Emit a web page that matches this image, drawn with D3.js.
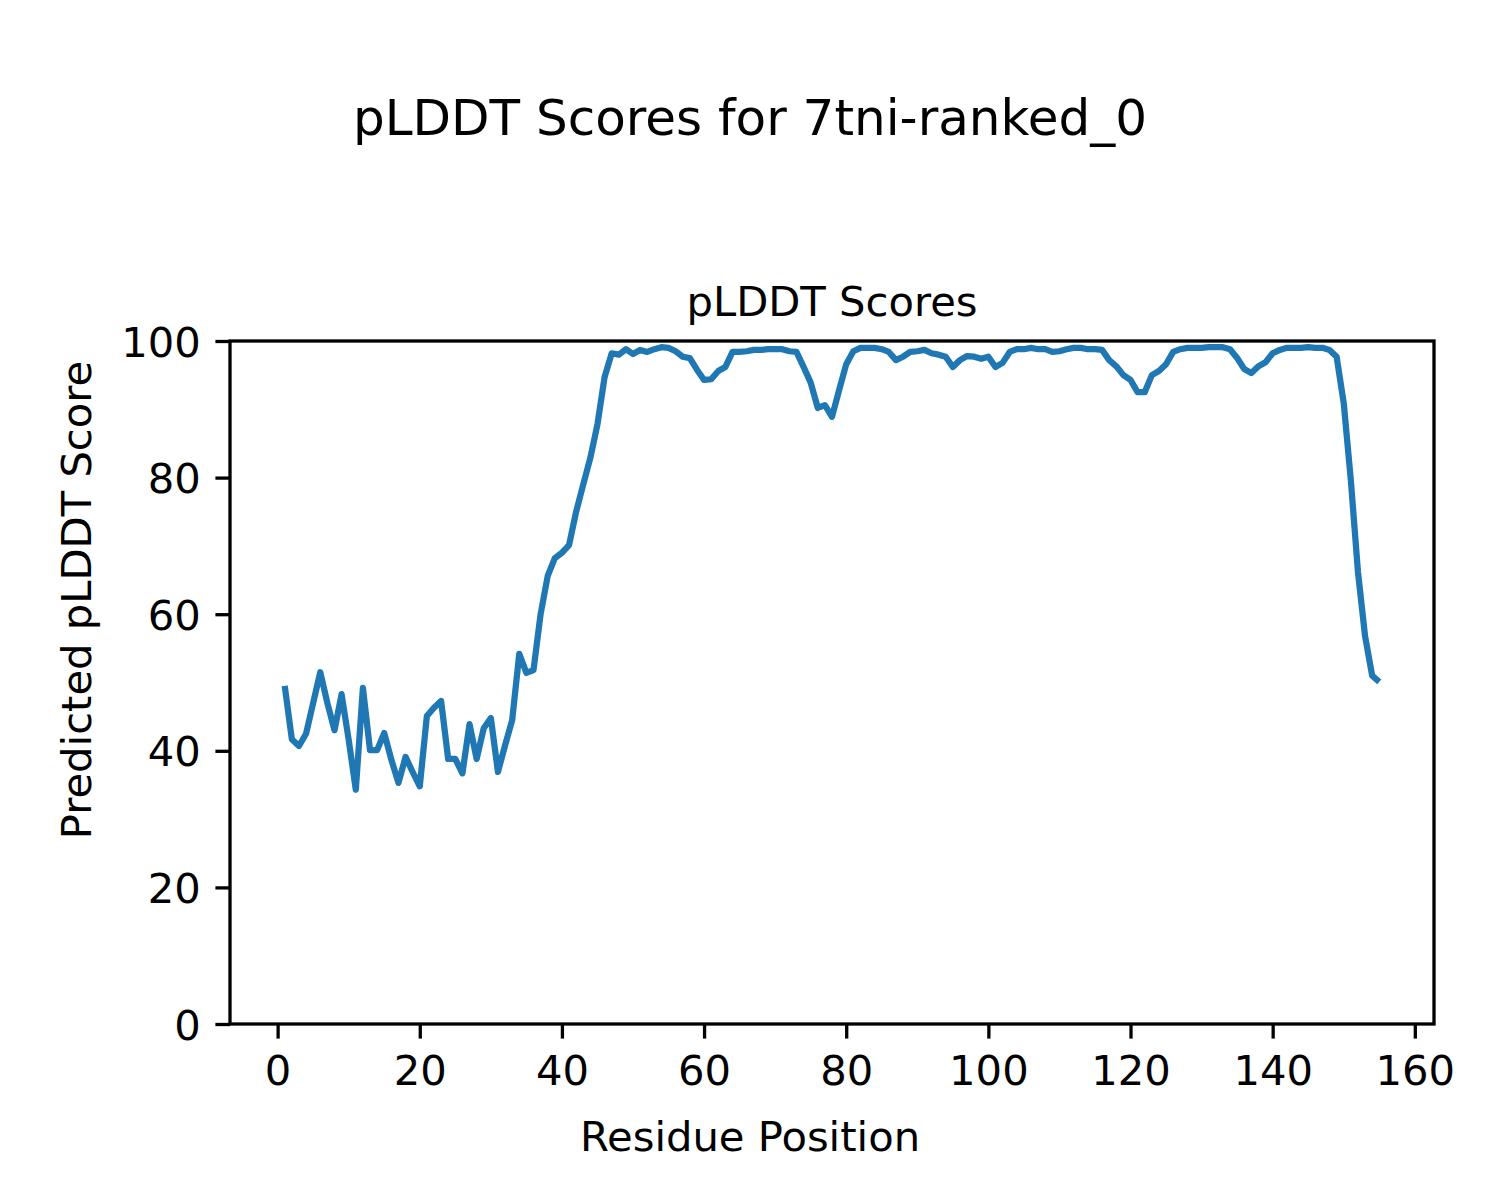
<!DOCTYPE html>
<html>
<head>
<meta charset="utf-8">
<script src="https://cdn.jsdelivr.net/npm/d3@7"></script>
<style>
  body { margin: 0; background: #fff; }
  text { font-family: "DejaVu Sans", sans-serif; fill: #000; }
</style>
</head>
<body>
<svg id="chart" width="1500" height="1200"></svg>
<script>
const residues = d3.range(1, 156);
const plddt = [
  49.5, 41.7, 40.7, 42.5, 47.0, 51.5, 47.0, 43.0, 48.3, 41.6,
  34.3, 49.2, 40.1, 40.1, 42.6, 38.7, 35.3, 39.1, 36.9, 34.8,
  45.1, 46.3, 47.3, 38.8, 38.8, 36.7, 43.9, 38.8, 43.3, 44.8,
  36.9, 40.8, 44.5, 54.2, 51.4, 51.8, 60.0, 65.6, 68.2, 69.0,
  70.1, 75.0, 79.0, 82.9, 87.8, 94.7, 98.2, 98.0, 98.8, 98.1,
  98.7, 98.4, 98.8, 99.1, 99.0, 98.5, 97.7, 97.5, 95.8, 94.3,
  94.4, 95.6, 96.2, 98.4, 98.4, 98.5, 98.7, 98.7, 98.8, 98.8,
  98.8, 98.5, 98.4, 96.2, 93.9, 90.2, 90.6, 88.9, 92.8, 96.6,
  98.5, 99.0, 99.0, 99.0, 98.8, 98.4, 97.2, 97.7, 98.4, 98.5,
  98.7, 98.2, 98.0, 97.7, 96.2, 97.2, 97.8, 97.7, 97.4, 97.7,
  96.2, 96.8, 98.4, 98.8, 98.8, 99.0, 98.8, 98.8, 98.4, 98.5,
  98.8, 99.0, 99.0, 98.8, 98.8, 98.7, 97.2, 96.3, 95.0, 94.3,
  92.5, 92.5, 95.0, 95.6, 96.6, 98.4, 98.8, 99.0, 99.0, 99.0,
  99.1, 99.1, 99.1, 98.8, 97.5, 95.9, 95.3, 96.3, 96.9, 98.2,
  98.7, 99.0, 99.0, 99.0, 99.1, 99.0, 99.0, 98.7, 97.7, 90.9,
  79.6, 66.2, 56.8, 51.0, 50.1
];
const xTicks = [0, 20, 40, 60, 80, 100, 120, 140, 160];
const yTicks = [0, 20, 40, 60, 80, 100];
const labels = {
  suptitle: "pLDDT Scores for 7tni-ranked_0",
  title: "pLDDT Scores",
  xlabel: "Residue Position",
  ylabel: "Predicted pLDDT Score"
};

const svg = d3.select("#chart");
const L = 230, R = 1434, T = 341, B = 1024;
const x = d3.scaleLinear().domain([1 - 0.05 * 154, 155 + 0.05 * 154]).range([L, R]);
const y = d3.scaleLinear().domain([0, 100]).range([B, T]);

const tickLen = 14.6, tickW = 3.3, fs = 41.7;

// line
svg.append("path")
  .datum(residues.map((r, i) => [r, plddt[i]]))
  .attr("fill", "none")
  .attr("stroke", "#1f77b4")
  .attr("stroke-width", 6.25)
  .attr("stroke-linejoin", "round")
  .attr("stroke-linecap", "butt")
  .attr("d", d3.line().x(d => x(d[0])).y(d => y(d[1])));

// axes
const xAxis = svg.append("g").attr("transform", `translate(0,${B})`)
  .call(d3.axisBottom(x).tickValues(xTicks).tickSize(tickLen).tickPadding(14.6).tickFormat(d3.format("d")));
const yAxis = svg.append("g").attr("transform", `translate(${L},0)`)
  .call(d3.axisLeft(y).tickValues(yTicks).tickSize(tickLen).tickPadding(14.6).tickFormat(d3.format("d")));
[xAxis, yAxis].forEach(g => {
  g.select(".domain").remove();
  g.selectAll(".tick line").attr("stroke", "#000").attr("stroke-width", tickW);
  g.selectAll(".tick text").style("font-size", fs + "px").style("font-family", "DejaVu Sans");
});
xAxis.selectAll(".tick text").attr("dy", "0.76em");
yAxis.selectAll(".tick text").attr("dy", "0.36em");

// frame
svg.append("rect").attr("x", L).attr("y", T).attr("width", R - L).attr("height", B - T)
  .attr("fill", "none").attr("stroke", "#000").attr("stroke-width", tickW);

// texts
svg.append("text").attr("x", 750).attr("y", 135).attr("text-anchor", "middle")
  .style("font-size", "50px").text(labels.suptitle);
svg.append("text").attr("x", (L + R) / 2).attr("y", 316).attr("text-anchor", "middle")
  .style("font-size", fs + "px").text(labels.title);
svg.append("text").attr("x", 750).attr("y", 1151).attr("text-anchor", "middle")
  .style("font-size", fs + "px").text(labels.xlabel);
svg.append("text").attr("transform", `translate(91,600) rotate(-90)`)
  .attr("text-anchor", "middle")
  .style("font-size", fs + "px").text(labels.ylabel);
</script>
</body>
</html>
